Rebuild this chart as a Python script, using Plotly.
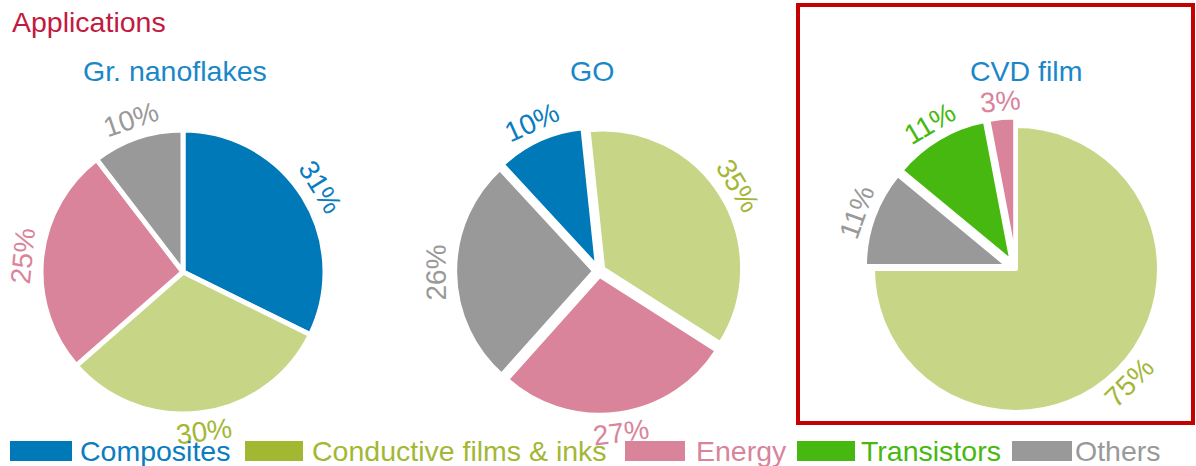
import math
import plotly.graph_objects as go

# ---- data -------------------------------------------------------------
categories = ["Composites", "Conductive films & inks", "Energy", "Transistors", "Others"]

nano_labels = ["Composites", "Conductive films & inks", "Energy", "Others"]
nano_values = [31, 30, 25, 10]

go_labels = ["Conductive films & inks", "Energy", "Others", "Composites"]
go_values = [35, 27, 26, 10]

cvd_labels = ["Conductive films & inks", "Others", "Transistors", "Energy"]
cvd_values = [75, 11, 11, 3]

panel_titles = ["Gr. nanoflakes", "GO", "CVD film"]

# ---- styles -----------------------------------------------------------
W, H = 1196, 466
FONT = "Liberation Sans, Arial, sans-serif"

slice_color = {
    "Composites": "#0079b9",
    "Conductive films & inks": "#c6d586",
    "Energy": "#d9849b",
    "Transistors": "#46b80f",
    "Others": "#999999",
}
text_color = {
    "Composites": "#0a7cbf",
    "Conductive films & inks": "#a3b735",
    "Energy": "#d9849b",
    "Transistors": "#46b80f",
    "Others": "#999999",
}


def px(x):
    return x / W


def py(y):
    return 1 - y / H


# panel geometry (pixel centre, radius, pull per slice, start rotation)
panels = [
    dict(labels=nano_labels, values=nano_values, cx=183, cy=272, r=142,
         pull=[0, 0, 0, 0], rot=0, line=5, off=19),
    dict(labels=go_labels, values=go_values, cx=599, cy=271, r=139,
         pull=[0.035] * 4, rot=-6, line=4, off=19),
    dict(labels=cvd_labels, values=cvd_values, cx=1016, cy=269, r=143,
         pull=[0, 0.06, 0.06, 0.06], rot=0, line=4, off=17),
]

fig = go.Figure()
annotations = []

for p in panels:
    max_pull = max(p["pull"])
    half = p["r"] * (1 + max_pull)
    fig.add_trace(go.Pie(
        labels=p["labels"],
        values=p["values"],
        sort=False,
        direction="clockwise",
        rotation=p["rot"],
        pull=p["pull"],
        textinfo="none",
        hoverinfo="label+value",
        showlegend=False,
        marker=dict(colors=[slice_color[l] for l in p["labels"]],
                    line=dict(color="white", width=p["line"])),
        domain=dict(x=[px(p["cx"] - half), px(p["cx"] + half)],
                    y=[py(p["cy"] + half), py(p["cy"] - half)]),
    ))

    # percentage labels set along the rim, following the circle
    total = sum(p["values"])
    cum = 0
    for lab, val, pl in zip(p["labels"], p["values"], p["pull"]):
        theta = p["rot"] + (cum + val / 2) / total * 360
        cum += val
        t = theta % 360
        if t <= 90:
            ang = t
        elif t < 180:
            ang = t - 180
        else:
            ang = t - 360
        dist = p["r"] * (1 + pl) + p["off"]
        x = p["cx"] + dist * math.sin(math.radians(theta))
        y = p["cy"] - dist * math.cos(math.radians(theta))
        annotations.append(dict(
            x=px(x), y=py(y), xref="paper", yref="paper",
            text=f"{val}%", showarrow=False, textangle=ang,
            xanchor="center", yanchor="middle",
            font=dict(family=FONT, size=28, color=text_color[lab]),
        ))

# headline and panel titles
annotations.append(dict(
    x=px(10), y=py(22), xref="paper", yref="paper", text="Applications",
    showarrow=False, xanchor="left", yanchor="middle",
    font=dict(family=FONT, size=28.5, color="#c21a3f"),
))
for title, cx in zip(panel_titles, [175, 592, 1026]):
    annotations.append(dict(
        x=px(cx), y=py(71), xref="paper", yref="paper", text=title,
        showarrow=False, xanchor="center", yanchor="middle",
        font=dict(family=FONT, size=28.5, color="#1a87c9"),
    ))

# custom legend: wide colour swatches followed by coloured names
legend_swatch = {
    "Composites": (10, 72, 78),
    "Conductive films & inks": (245, 303, 310),
    "Energy": (625, 685, 694),
    "Transistors": (797, 855, 859),
    "Others": (1012, 1072, 1073),
}
legend_swatch_color = dict(slice_color)
legend_swatch_color["Conductive films & inks"] = "#a3b832"

shapes = []
for name in categories:
    x0, x1, tx = legend_swatch[name]
    shapes.append(dict(
        type="rect", xref="paper", yref="paper",
        x0=px(x0), x1=px(x1), y0=py(461), y1=py(441),
        fillcolor=legend_swatch_color[name], line=dict(width=0),
    ))
    annotations.append(dict(
        x=px(tx), y=py(451), xref="paper", yref="paper", text=name,
        showarrow=False, xanchor="left", yanchor="middle",
        font=dict(family=FONT, size=28.5, color=text_color[name]),
    ))

# highlight frame around the CVD panel
shapes.append(dict(
    type="rect", xref="paper", yref="paper",
    x0=px(798), x1=px(1193), y0=py(423), y1=py(5),
    line=dict(color="#c40000", width=4), fillcolor="rgba(0,0,0,0)",
))

fig.update_layout(
    width=W, height=H,
    margin=dict(l=0, r=0, t=0, b=0),
    paper_bgcolor="white", plot_bgcolor="white",
    font=dict(family=FONT),
    annotations=annotations,
    shapes=shapes,
)

fig.write_html("out.html")
